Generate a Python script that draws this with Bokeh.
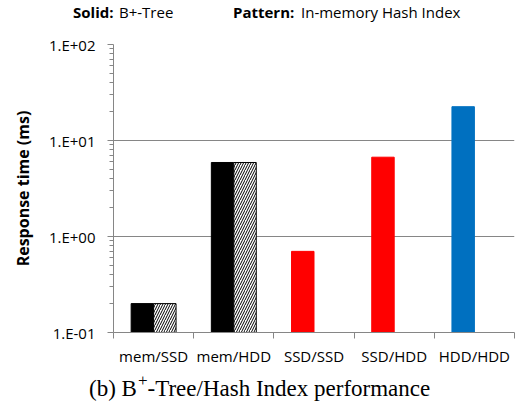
from bokeh.plotting import figure
from bokeh.models import FixedTicker, ColumnDataSource, Range1d, Div
from bokeh.layouts import column
from bokeh.embed import file_html
from bokeh.resources import INLINE

categories = ["mem/SSD", "mem/HDD", "SSD/SSD", "SSD/HDD", "HDD/HDD"]
btree_ms = [0.2, 5.9, 0.7, 6.7, 22.5]
btree_colors = ["#000000", "#000000", "#FF0000", "#FF0000", "#0070C0"]
hash_categories = ["mem/SSD", "mem/HDD"]
hash_ms = [0.2, 5.9]
y_ticks = [0.1, 1, 10, 100]
y_tick_labels = ["1.E-01", "1.E+00", "1.E+01", "1.E+02"]

FONT = "Open Sans"
GRID = "#868686"

W = 519
p = figure(width=W, height=340, y_axis_type="log", output_backend="svg",
           toolbar_location=None, x_range=Range1d(0, len(categories)),
           y_range=Range1d(y_ticks[0], y_ticks[-1]),
           min_border_left=113, min_border_right=5, min_border_top=14,
           min_border_bottom=38)
p.outline_line_color = None
p.background_fill_color = "white"
p.border_fill_color = "white"

idx = {c: i for i, c in enumerate(categories)}
bw = 0.28
src_b = ColumnDataSource(dict(x=[idx[c] + 0.5 - bw / 2 for c in categories],
                              top=btree_ms, color=btree_colors))
p.vbar(x="x", top="top", bottom=y_ticks[0], width=bw, source=src_b,
       fill_color="color", line_color="color", line_width=1)
src_h = ColumnDataSource(dict(x=[idx[c] + 0.5 + bw / 2 for c in hash_categories],
                              top=hash_ms))
p.vbar(x="x", top="top", bottom=y_ticks[0], width=bw, source=src_h,
       fill_color="white", line_color="black", line_width=1,
       hatch_pattern="/", hatch_color="black", hatch_scale=5, hatch_weight=1.0)

# y axis
minor = []
for d in y_ticks[:-1]:
    minor += [d * k for k in range(2, 10)]
p.yaxis.ticker = FixedTicker(ticks=y_ticks, minor_ticks=minor)
p.yaxis.major_label_overrides = {t: l for t, l in zip(y_ticks, y_tick_labels)}
p.yaxis.axis_line_color = GRID
p.yaxis.major_tick_line_color = GRID
p.yaxis.minor_tick_line_color = GRID
p.yaxis.major_tick_out = 6
p.yaxis.major_tick_in = 0
p.yaxis.minor_tick_out = 4
p.yaxis.minor_tick_in = 0
p.yaxis.major_label_standoff = 12
p.yaxis.major_label_text_font = FONT
p.yaxis.major_label_text_font_size = "15px"
p.yaxis.major_label_text_color = "black"
p.yaxis.axis_label = "Response time (ms)"
p.yaxis.axis_label_text_font = FONT
p.yaxis.axis_label_text_font_size = "16px"
p.yaxis.axis_label_text_font_style = "bold"
p.yaxis.axis_label_text_color = "black"
p.yaxis.axis_label_standoff = 12

# x axis
centers = [i + 0.5 for i in range(len(categories))]
p.xaxis.ticker = FixedTicker(ticks=centers, minor_ticks=list(range(len(categories) + 1)))
p.xaxis.major_label_overrides = {c: n for c, n in zip(centers, categories)}
p.xaxis.axis_line_color = GRID
p.xaxis.major_tick_out = 0
p.xaxis.major_tick_in = 0
p.xaxis.minor_tick_out = 6
p.xaxis.minor_tick_in = 0
p.xaxis.minor_tick_line_color = GRID
p.xaxis.major_label_standoff = 7
p.xaxis.major_label_text_font = FONT
p.xaxis.major_label_text_font_size = "15px"
p.xaxis.major_label_text_color = "black"

p.xgrid.grid_line_color = None
p.ygrid.grid_line_color = GRID
p.ygrid.minor_grid_line_color = None

top_html = (
    "<div style=\"position:relative;width:519px;height:30px;font-family:'Open Sans';"
    "font-size:15px;line-height:normal;color:black;white-space:nowrap;\">"
    "<span style=\"position:absolute;left:73px;top:2px;font-weight:bold;\">Solid:</span>"
    "<span style=\"position:absolute;left:119px;top:2px;\">B+-Tree</span>"
    "<span style=\"position:absolute;left:233px;top:2px;font-weight:bold;\">Pattern:</span>"
    "<span style=\"position:absolute;left:301px;top:2px;\">In-memory Hash Index</span>"
    "</div>"
)
cap_html = (
    "<div style=\"position:relative;width:519px;height:37px;font-family:'Liberation Serif';"
    "font-size:23px;line-height:normal;color:black;white-space:nowrap;\">"
    "<span style=\"position:absolute;left:89px;top:6px;\">(b) B"
    "<span style=\"font-size:17px;position:relative;top:-10px;margin-left:1px;\">+</span>"
    "-Tree/Hash Index performance</span></div>"
)
top_div = Div(text=top_html, width=W, height=30, margin=0)
cap_div = Div(text=cap_html, width=W, height=37, margin=0)

layout = column(top_div, p, cap_div, spacing=0, margin=0)
open("out.html", "w").write(file_html(layout, INLINE))
